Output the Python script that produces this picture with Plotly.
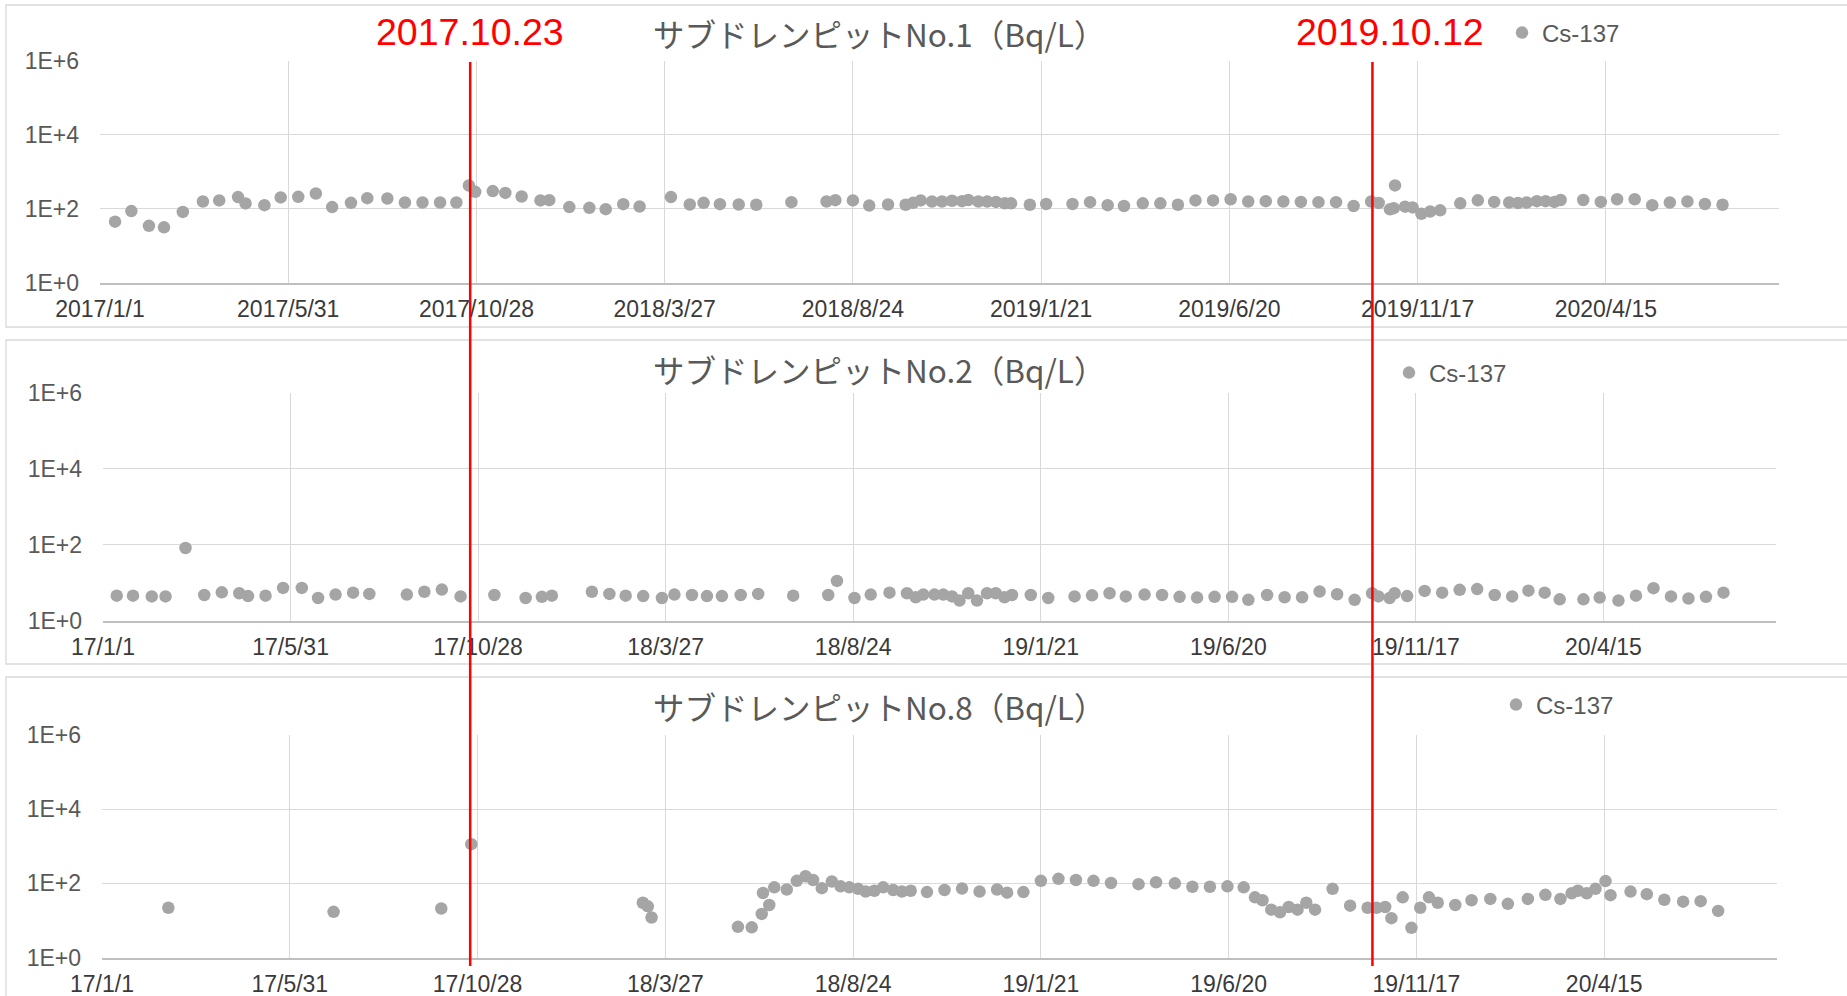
import plotly.graph_objects as go

W, H = 1847, 996

# ---- measurement data: Cs-137 (Bq/L) ----
dates_no1 = [
    "2017-01-13", "2017-01-26", "2017-02-09", "2017-02-21", "2017-03-08", "2017-03-24",
    "2017-04-06", "2017-04-21", "2017-04-27", "2017-05-12", "2017-05-25", "2017-06-08",
    "2017-06-22", "2017-07-05", "2017-07-20", "2017-08-02", "2017-08-18", "2017-09-01",
    "2017-09-15", "2017-09-29", "2017-10-12", "2017-10-22", "2017-10-27", "2017-11-10",
    "2017-11-20", "2017-12-03", "2017-12-18", "2017-12-25", "2018-01-10", "2018-01-26",
    "2018-02-08", "2018-02-22", "2018-03-07", "2018-04-01", "2018-04-16", "2018-04-27",
    "2018-05-10", "2018-05-25", "2018-06-08", "2018-07-06", "2018-08-03", "2018-08-10",
    "2018-08-24", "2018-09-06", "2018-09-21", "2018-10-05", "2018-10-11", "2018-10-17",
    "2018-10-26", "2018-11-03", "2018-11-11", "2018-11-19", "2018-11-24", "2018-12-02",
    "2018-12-09", "2018-12-16", "2018-12-23", "2018-12-28", "2019-01-12", "2019-01-25",
    "2019-02-15", "2019-03-01", "2019-03-15", "2019-03-28", "2019-04-12", "2019-04-26",
    "2019-05-10", "2019-05-24", "2019-06-07", "2019-06-21", "2019-07-05", "2019-07-19",
    "2019-08-02", "2019-08-16", "2019-08-30", "2019-09-13", "2019-09-27", "2019-10-11",
    "2019-10-17", "2019-10-26", "2019-10-29", "2019-10-30", "2019-11-07", "2019-11-13",
    "2019-11-20", "2019-11-27", "2019-12-05", "2019-12-21", "2020-01-04", "2020-01-17",
    "2020-01-29", "2020-02-05", "2020-02-12", "2020-02-20", "2020-02-27", "2020-03-05",
    "2020-03-10", "2020-03-28", "2020-04-11", "2020-04-24", "2020-05-08", "2020-05-22",
    "2020-06-05", "2020-06-19", "2020-07-03", "2020-07-17",
]
cs137_no1 = [
    44, 85, 34, 31, 81, 155,
    165, 203, 137, 123, 199, 207,
    255, 109, 142, 190, 186, 145,
    145, 145, 145, 418, 282, 295,
    264, 211, 165, 168, 109, 104,
    96, 131, 113, 203, 128, 142,
    131, 128, 126, 148, 155, 168,
    165, 120, 128, 126, 142, 165,
    155, 155, 162, 158, 170, 155,
    155, 151, 138, 138, 126, 132,
    132, 148, 123, 117, 138, 138,
    126, 165, 165, 178, 155, 158,
    155, 151, 148, 148, 117, 155,
    141, 95, 102, 420, 112, 107,
    72, 83, 89, 138, 166, 151,
    145, 141, 145, 158, 158, 151,
    170, 170, 151, 178, 178, 123,
    145, 155, 132, 126,
]

dates_no2 = [
    "2017-01-12", "2017-01-25", "2017-02-09", "2017-02-20", "2017-03-08", "2017-03-23",
    "2017-04-06", "2017-04-20", "2017-04-27", "2017-05-11", "2017-05-25", "2017-06-09",
    "2017-06-22", "2017-07-06", "2017-07-20", "2017-08-02", "2017-09-01", "2017-09-15",
    "2017-09-29", "2017-10-14", "2017-11-10", "2017-12-05", "2017-12-18", "2017-12-26",
    "2018-01-27", "2018-02-10", "2018-02-23", "2018-03-09", "2018-03-24", "2018-04-03",
    "2018-04-17", "2018-04-29", "2018-05-11", "2018-05-26", "2018-06-09", "2018-07-07",
    "2018-08-04", "2018-08-11", "2018-08-25", "2018-09-07", "2018-09-22", "2018-10-06",
    "2018-10-13", "2018-10-19", "2018-10-28", "2018-11-04", "2018-11-11", "2018-11-17",
    "2018-11-24", "2018-12-01", "2018-12-09", "2018-12-16", "2018-12-23", "2018-12-29",
    "2019-01-13", "2019-01-27", "2019-02-17", "2019-03-03", "2019-03-17", "2019-03-30",
    "2019-04-14", "2019-04-28", "2019-05-12", "2019-05-26", "2019-06-09", "2019-06-23",
    "2019-07-06", "2019-07-21", "2019-08-04", "2019-08-18", "2019-09-01", "2019-09-15",
    "2019-09-29", "2019-10-13", "2019-10-18", "2019-10-27", "2019-10-31", "2019-11-10",
    "2019-11-24", "2019-12-08", "2019-12-22", "2020-01-05", "2020-01-19", "2020-02-02",
    "2020-02-15", "2020-02-28", "2020-03-11", "2020-03-30", "2020-04-12", "2020-04-27",
    "2020-05-11", "2020-05-25", "2020-06-08", "2020-06-22", "2020-07-06", "2020-07-20",
]
cs137_no2 = [
    4.5, 4.5, 4.3, 4.3, 81, 4.7,
    5.5, 5.2, 4.4, 4.5, 7.2, 7.2,
    3.9, 4.8, 5.4, 5.0, 4.8, 5.7,
    6.5, 4.3, 4.7, 3.9, 4.2, 4.5,
    5.7, 5.0, 4.5, 4.4, 3.9, 4.8,
    4.7, 4.4, 4.4, 4.7, 5.0, 4.5,
    4.7, 11, 3.9, 4.8, 5.4, 5.2,
    4.1, 4.8, 4.8, 4.8, 4.3, 3.35,
    5.2, 3.35, 5.2, 5.2, 4.1, 4.7,
    4.7, 3.9, 4.3, 4.6, 5.2, 4.3,
    4.8, 4.7, 4.2, 4.0, 4.2, 4.2,
    3.5, 4.7, 4.1, 4.1, 5.8, 4.9,
    3.5, 5.2, 4.3, 3.9, 5.2, 4.4,
    6.0, 5.4, 6.4, 6.7, 4.7, 4.3,
    6.1, 5.4, 3.6, 3.6, 4.0, 3.35,
    4.5, 7.1, 4.3, 3.8, 4.2, 5.4,
]

dates_no8 = [
    "2017-02-23", "2017-07-05", "2017-09-29", "2017-10-23", "2018-03-09", "2018-03-13",
    "2018-03-16", "2018-05-24", "2018-06-04", "2018-06-12", "2018-06-13", "2018-06-18",
    "2018-06-22", "2018-07-02", "2018-07-10", "2018-07-17", "2018-07-23", "2018-07-30",
    "2018-08-07", "2018-08-14", "2018-08-21", "2018-08-28", "2018-09-03", "2018-09-10",
    "2018-09-17", "2018-09-25", "2018-10-02", "2018-10-09", "2018-10-22", "2018-11-05",
    "2018-11-19", "2018-12-03", "2018-12-17", "2018-12-25", "2019-01-07", "2019-01-21",
    "2019-02-04", "2019-02-18", "2019-03-04", "2019-03-18", "2019-04-09", "2019-04-23",
    "2019-05-08", "2019-05-22", "2019-06-05", "2019-06-19", "2019-07-02", "2019-07-11",
    "2019-07-17", "2019-07-24", "2019-07-31", "2019-08-07", "2019-08-14", "2019-08-21",
    "2019-08-28", "2019-09-11", "2019-09-25", "2019-10-09", "2019-10-16", "2019-10-23",
    "2019-10-28", "2019-11-06", "2019-11-13", "2019-11-20", "2019-11-27", "2019-12-04",
    "2019-12-18", "2019-12-31", "2020-01-15", "2020-01-29", "2020-02-14", "2020-02-28",
    "2020-03-11", "2020-03-20", "2020-03-25", "2020-04-01", "2020-04-08", "2020-04-16",
    "2020-04-20", "2020-05-06", "2020-05-19", "2020-06-02", "2020-06-17", "2020-07-01",
    "2020-07-15",
]
cs137_no8 = [
    22, 17, 21, 1140, 30, 24,
    12, 6.7, 6.5, 15, 55, 26,
    78, 68, 117, 155, 123, 74,
    112, 83, 78, 71, 60, 63,
    78, 66, 60, 63, 58, 66,
    72, 60, 68, 56, 58, 117,
    132, 123, 117, 102, 95, 107,
    100, 81, 81, 83, 78, 42,
    35, 19.5, 16.6, 23, 19.5, 30,
    19.5, 71, 25, 22, 22, 23,
    11.5, 42, 6.3, 22, 42, 30,
    26, 35, 38, 28, 38, 49,
    38, 54, 63, 54, 71, 115,
    48, 60, 51, 36, 32, 33,
    18,
]

panel_titles = [
    "サブドレンピットNo.1（Bq/L）",
    "サブドレンピットNo.2（Bq/L）",
    "サブドレンピットNo.8（Bq/L）",
]
series_name = "Cs-137"
y_tick_vals = [1, 1e2, 1e4, 1e6]
y_tick_text = ["1E+0", "1E+2", "1E+4", "1E+6"]
x_tick_formats = ["%Y/%-m/%-d", "%y/%-m/%-d", "%y/%-m/%-d"]
x_start, x_end = "2017-01-01", "2020-08-31"
x_step_days = 150
event_dates = ["2017-10-23", "2019-10-12"]
event_labels = ["2017.10.23", "2019.10.12"]

series = [(dates_no1, cs137_no1), (dates_no2, cs137_no2), (dates_no8, cs137_no8)]

# ---- layout geometry (pixels) ----
def fx(p):
    return p / W


def fy(p):
    return 1 - p / H


# plot areas: left, right, top, bottom
plot_boxes = [(100, 1779, 60.5, 282.5), (103, 1776, 392.5, 620.5), (102, 1777, 735, 957.5)]
# outer chart frames: left, top, bottom
frames = [(6, 5, 327), (6, 340, 664), (6, 677, 1002)]
title_y = [33, 369, 706]
legend_pos = [(1502, 33), (1389, 373), (1496, 705)]

GRID = "#D9D9D9"
AXIS = "#BFBFBF"
TXT = "#595959"
DOT = "#A5A5A5"
NUM_FONT = "Liberation Sans, Arial, sans-serif"
JP_FONT = "Noto Sans CJK JP, sans-serif"

fig = go.Figure()
layout = dict(
    template="none",
    width=W, height=H, autosize=False,
    margin=dict(l=0, r=0, t=0, b=0, pad=0),
    paper_bgcolor="white", plot_bgcolor="white",
    shapes=[], annotations=[],
)

for i, (xs, ys) in enumerate(series):
    n = "" if i == 0 else str(i + 1)
    legend_id = "legend" + n
    fig.add_trace(go.Scatter(
        x=xs, y=ys, mode="markers", name=series_name,
        marker=dict(color=DOT, size=12.5, line=dict(width=0)),
        xaxis="x" + n, yaxis="y" + n, legend=legend_id, showlegend=True,
    ))
    l, r, t, b = plot_boxes[i]
    layout["xaxis" + n] = dict(
        type="date", domain=[fx(l), fx(r)], anchor="y" + n, automargin=False,
        range=[x_start, x_end], tick0=x_start, dtick=x_step_days * 86400000,
        tickformat=x_tick_formats[i], showgrid=True, gridcolor=GRID, gridwidth=1,
        showline=True, linecolor=AXIS, linewidth=1.5, ticks="",
        tickfont=dict(family=NUM_FONT, size=23, color="#3A3A3A"),
        ticklabelstandoff=5, zeroline=False,
    )
    layout["yaxis" + n] = dict(
        type="log", domain=[fy(b), fy(t)], anchor="x" + n, range=[0, 6],
        automargin=False,
        tickvals=y_tick_vals, ticktext=y_tick_text, showgrid=True,
        gridcolor=GRID, gridwidth=1, showline=False, ticks="",
        tickfont=dict(family=NUM_FONT, size=23, color=TXT),
        ticklabelstandoff=20, zeroline=False,
    )
    lx, ly = legend_pos[i]
    layout[legend_id] = dict(
        x=fx(lx), y=fy(ly), xanchor="left", yanchor="middle",
        bgcolor="rgba(0,0,0,0)", borderwidth=0,
        font=dict(family=NUM_FONT, size=24, color=TXT),
    )
    fl, ft, fb = frames[i]
    layout["shapes"].append(dict(
        type="rect", xref="paper", yref="paper", x0=fx(fl), x1=fx(W + 10),
        y0=fy(fb), y1=fy(ft), line=dict(color=GRID, width=1.3), layer="below",
    ))
    layout["annotations"].append(dict(
        text=panel_titles[i], xref="paper", yref="paper", x=fx(879), y=fy(title_y[i]),
        xanchor="center", yanchor="middle", showarrow=False,
        font=dict(family=JP_FONT, size=31.5, color=TXT),
    ))

# event markers spanning all three panels
for d, label, shift in zip(event_dates, event_labels, [0, 18]):
    layout["shapes"].append(dict(
        type="line", xref="x", yref="paper", x0=d, x1=d, y0=fy(62), y1=fy(966),
        line=dict(color="#FF0000", width=2.5), layer="above",
    ))
    layout["annotations"].append(dict(
        text=label, xref="x", yref="paper", x=d, y=fy(32), xshift=shift,
        xanchor="center", yanchor="middle", showarrow=False,
        font=dict(family=NUM_FONT, size=37.5, color="#FF0000"),
    ))

fig.update_layout(**layout)
fig.write_html("out.html")
